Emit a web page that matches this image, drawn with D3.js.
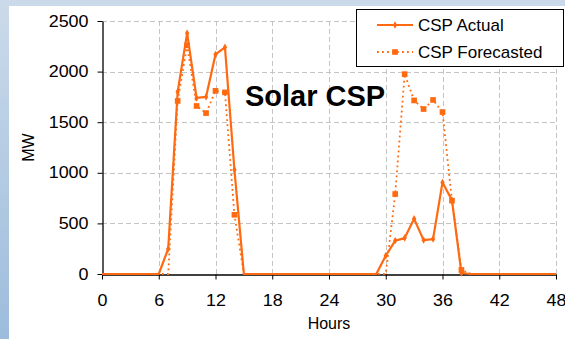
<!DOCTYPE html>
<html>
<head>
<meta charset="utf-8">
<script src="https://cdn.jsdelivr.net/npm/d3@7"></script>
<style>
  html, body { margin: 0; padding: 0; background: #fff; }
  svg { display: block; }
  text { font-family: "Liberation Sans", Arial, sans-serif; fill: #000; }
</style>
</head>
<body>
<svg id="chart" width="565" height="339"></svg>
<script>
// Hourly CSP output over two days (MW)
const hours = d3.range(0, 49);
const actualMW = [
  0, 0, 0, 0, 0, 0, 0, 250, 1800, 2380, 1740, 1750, 2170, 2240, 1030, 0,
  0, 0, 0, 0, 0, 0, 0, 0, 0, 0, 0, 0, 0, 0, 180, 330, 355, 545, 335, 345,
  905, 730, 10, 0, 0, 0, 0, 0, 0, 0, 0, 0, 0
];
const forecastMW = [
  0, 0, 0, 0, 0, 0, 0, 0, 1710, 2260, 1660, 1590, 1810, 1795, 585, 0,
  0, 0, 0, 0, 0, 0, 0, 0, 0, 0, 0, 0, 0, 0, 0, 790, 1975, 1715, 1630, 1720,
  1600, 725, 40, 0, 0, 0, 0, 0, 0, 0, 0, 0, 0
];
const xTicks = [0, 6, 12, 18, 24, 30, 36, 42, 48];
const yTicks = [0, 500, 1000, 1500, 2000, 2500];
const seriesNames = ["CSP Actual", "CSP Forecasted"];
const chartTitle = "Solar CSP";

const W = 565, H = 339;
const margin = { left: 102, right: 9, top: 21, bottom: 65 };
const orange = "#ff6a10";
const tickStretch = 1.12; // tick numerals are set slightly wide
const svg = d3.select("#chart");

// slide-style backdrop: blue edge band, white panel
const defs = svg.append("defs");
const grad = defs.append("linearGradient").attr("id", "edge")
  .attr("x1", 0).attr("y1", 0).attr("x2", 0).attr("y2", 1);
grad.append("stop").attr("offset", "0%").attr("stop-color", "#cbdaea");
grad.append("stop").attr("offset", "100%").attr("stop-color", "#9dbcdc");
svg.append("rect").attr("width", W).attr("height", H).attr("fill", "url(#edge)");
svg.append("rect").attr("x", 0).attr("y", 0).attr("width", W).attr("height", 6).attr("fill", "#cbdaea");
svg.append("rect").attr("x", 9).attr("y", 6).attr("width", W - 9).attr("height", H - 6).attr("fill", "#fff");

const x = d3.scaleLinear().domain([0, 48]).range([margin.left, W - margin.right]);
const y = d3.scaleLinear().domain([0, 2500]).range([H - margin.bottom, margin.top]);

// dashed grid
const grid = svg.append("g").attr("stroke", "#c4c4c4").attr("stroke-dasharray", "5,3").attr("stroke-width", 1);
grid.selectAll("line.h").data(yTicks.filter(d => d > 0)).join("line")
  .attr("x1", x(0)).attr("x2", x(48))
  .attr("y1", d => Math.round(y(d)) + 0.5).attr("y2", d => Math.round(y(d)) + 0.5);
grid.selectAll("line.v").data(xTicks.filter(d => d > 0)).join("line")
  .attr("y1", y(0)).attr("y2", y(2500))
  .attr("x1", d => Math.round(x(d)) + 0.5).attr("x2", d => Math.round(x(d)) + 0.5);

// axes
const xAxis = svg.append("g").attr("transform", `translate(0,${Math.round(y(0)) + 0.5})`)
  .call(d3.axisBottom(x).tickValues(xTicks).tickFormat(d3.format("d"))
    .tickSize(5).tickPadding(15).tickSizeOuter(0));
const yAxis = svg.append("g").attr("transform", `translate(${Math.round(x(0)) + 0.5},0)`)
  .call(d3.axisLeft(y).tickValues(yTicks).tickFormat(d3.format("d"))
    .tickSize(5).tickPadding(9).tickSizeOuter(0));
[xAxis, yAxis].forEach(g => {
  g.select(".domain").attr("stroke", "#000").attr("stroke-width", 1.3);
  g.selectAll(".tick line").attr("stroke", "#000");
  g.selectAll(".tick text").attr("font-size", 16)
    .attr("font-family", "Liberation Sans, Arial, sans-serif").attr("fill", "#000")
    .attr("transform", `scale(${tickStretch},1)`);
});
// keep the right edge of the y labels in place after widening
yAxis.selectAll(".tick text").attr("x", -14 / tickStretch);

// axis titles
svg.append("text").attr("x", (x(0) + x(48)) / 2).attr("y", 329)
  .attr("text-anchor", "middle").attr("font-size", 16).text("Hours");
svg.append("text").attr("transform", `translate(34,${(y(0) + y(2500)) / 2}) rotate(-90)`)
  .attr("text-anchor", "middle").attr("font-size", 16).text("MW");

// series lines
const line = d3.line().x((d, i) => x(hours[i])).y(d => y(d));
svg.append("path").datum(forecastMW).attr("d", line)
  .attr("fill", "none").attr("stroke", orange).attr("stroke-width", 1.8)
  .attr("stroke-dasharray", "1.8,3.2");
svg.append("path").datum(actualMW).attr("d", line)
  .attr("fill", "none").attr("stroke", orange).attr("stroke-width", 2.2)
  .attr("stroke-linejoin", "round");

// markers only where output is non-zero
const sq = d3.symbol().type(d3.symbolSquare).size(32);
const cross = d3.symbol().type(d3.symbolDiamond).size(16);
svg.append("g").selectAll("path")
  .data(forecastMW.map((v, i) => [hours[i], v]).filter(d => d[1] > 0)).join("path")
  .attr("d", sq).attr("fill", orange)
  .attr("transform", d => `translate(${x(d[0])},${y(d[1])})`);
svg.append("g").selectAll("path")
  .data(actualMW.map((v, i) => [hours[i], v]).filter(d => d[1] > 0)).join("path")
  .attr("d", cross).attr("fill", orange)
  .attr("transform", d => `translate(${x(d[0])},${y(d[1])})`);

// title
svg.append("text").attr("x", 245).attr("y", 106)
  .attr("font-size", 29).attr("font-weight", "bold").text(chartTitle);

// legend
const lg = svg.append("g");
lg.append("rect").attr("x", 356.5).attr("y", 9.5).attr("width", 207).attr("height", 57)
  .attr("fill", "#fff").attr("stroke", "#000").attr("stroke-width", 1);
const rows = [
  { name: seriesNames[0], yy: 25, dash: null, w: 2.2, sym: cross },
  { name: seriesNames[1], yy: 52, dash: "1.8,3.2", w: 1.8, sym: sq }
];
rows.forEach(r => {
  lg.append("line").attr("x1", 377).attr("x2", 413).attr("y1", r.yy).attr("y2", r.yy)
    .attr("stroke", orange).attr("stroke-width", r.w).attr("stroke-dasharray", r.dash);
  lg.append("path").attr("d", r.sym).attr("fill", orange).attr("transform", `translate(395,${r.yy})`);
  lg.append("text").attr("x", 418).attr("y", r.yy + 6).attr("font-size", 17).text(r.name);
});
</script>
</body>
</html>
